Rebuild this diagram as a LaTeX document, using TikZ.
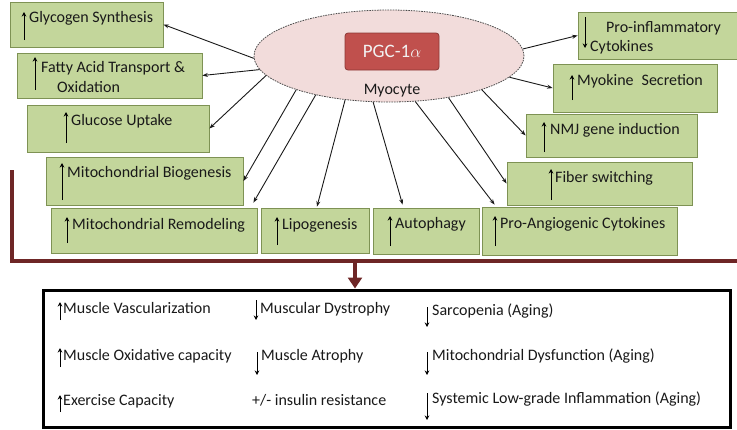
\documentclass[tikz,border=0pt]{standalone}
\usepackage{fontspec}
\setmainfont{Carlito}
\usetikzlibrary{shapes.geometric,arrows.meta}
\definecolor{boxgreen}{HTML}{C3D69B}
\definecolor{boxedge}{HTML}{7E9254}
\definecolor{cellpink}{HTML}{F2DCDB}
\definecolor{pgcred}{HTML}{C0504D}
\definecolor{pgcedge}{HTML}{8C3836}
\definecolor{maroon}{HTML}{6E2626}
\begin{document}
\begin{tikzpicture}[x=1pt,y=-1pt,
  gbox/.style={draw=boxedge,line width=0.8pt,fill=boxgreen,inner sep=0pt},
  txt/.style={anchor=base west,inner sep=0pt,text=black!90,font=\fontsize{16}{19}\selectfont},
  ua/.style={line width=0.9pt,-{Stealth[length=4.5pt,width=4.5pt]}},
  conn/.style={line width=0.9pt,draw=black!90,-{Stealth[length=5.5pt,width=4pt]}},
  bracket/.style={draw=maroon,line width=4pt}]
\useasboundingbox (0,0) rectangle (737,429);

% central cell
\node[ellipse,draw=black!70,dash pattern=on 1.6pt off 1pt,line width=0.8pt,fill=cellpink,
      minimum width=270pt,minimum height=92pt,inner sep=0pt] (ell) at (389,56) {};
\node[draw=pgcedge,line width=0.8pt,fill=pgcred,rounded corners=3pt,minimum width=94pt,
      minimum height=37pt,inner sep=0pt,text=white!95!black,font=\fontsize{19}{22}\selectfont]
      (pgc) at (392,51.5) {PGC-1$\alpha$};
\node[anchor=base,inner sep=0pt,text=black!90,font=\fontsize{16}{19}\selectfont] (myo) at (392,94) {Myocyte};

% green boxes
\node[gbox,minimum width=153pt,minimum height=45pt] (glyc) at (86.5,24.5) {};
\node[gbox,minimum width=185pt,minimum height=45pt] (fatty) at (109.5,75.5) {};
\node[gbox,minimum width=182pt,minimum height=47pt] (gluc) at (118,128.5) {};
\node[gbox,minimum width=197pt,minimum height=48pt] (mbio) at (144.5,181) {};
\node[gbox,minimum width=206pt,minimum height=45pt] (mrem) at (154,230.5) {};
\node[gbox,minimum width=108pt,minimum height=45pt] (lipo) at (315,230.5) {};
\node[gbox,minimum width=106pt,minimum height=46pt] (auto) at (426,231) {};
\node[gbox,minimum width=195pt,minimum height=48pt] (pang) at (579.5,231) {};
\node[gbox,minimum width=185pt,minimum height=43pt] (fiber) at (599.5,183.5) {};
\node[gbox,minimum width=171pt,minimum height=43pt] (nmj) at (611.5,135.5) {};
\node[gbox,minimum width=164pt,minimum height=48pt] (myok) at (635,88) {};
\node[gbox,minimum width=159pt,minimum height=47pt] (pinf) at (657.5,35.5) {};

% box texts
\node[txt] (t1) at (29,22) {Glycogen Synthesis};
\node[txt] (t2a) at (41,72) {Fatty Acid Transport \&};
\node[txt] (t2b) at (57,92) {Oxidation};
\node[txt] (t3) at (71,125) {Glucose Uptake};
\node[txt] (t4) at (67,177) {Mitochondrial Biogenesis};
\node[txt] (t5) at (72,229) {Mitochondrial Remodeling};
\node[txt] (t6) at (282,229) {Lipogenesis};
\node[txt] (t7) at (395,228) {Autophagy};
\node[txt] (t8) at (500,228) {Pro-Angiogenic Cytokines};
\node[txt] (t9) at (555,182) {Fiber switching};
\node[txt] (t10) at (550,134) {NMJ gene induction};
\node[txt] (t11) at (577,85) {Myokine\hspace{0.5em}Secretion};
\node[txt] (t12a) at (606,32) {Pro-inflammatory};
\node[txt] (t12b) at (590,51) {Cytokines};

% arrow glyphs in boxes
\draw[ua] (24,40) -- (24,12);
\draw[ua] (35,90) -- (35,57);
\draw[ua] (66,143) -- (66,112);
\draw[ua] (62,200) -- (62,163);
\draw[ua] (67,243) -- (67,217);
\draw[ua] (277,245) -- (277,217);
\draw[ua] (390,246) -- (390,216);
\draw[ua] (495,246) -- (495,216);
\draw[ua] (551,200) -- (551,169);
\draw[ua] (544,152) -- (544,122);
\draw[ua] (572,100) -- (572,75);
\draw[ua] (585,17) -- (585,48);

% connectors from the cell
\draw[conn] (ell.181.7) -- (glyc.east);
\draw[conn] (ell.186.1) -- (fatty.east);
\draw[conn] (ell.189.5) -- (gluc.east);
\draw[conn] (ell.200) -- (mbio.east);
\draw[conn] (ell.208.6) -- ([xshift=-4pt,yshift=5pt]mrem.north east);
\draw[conn] (ell.225) -- ([xshift=2pt,yshift=1pt]lipo.north);
\draw[conn] (ell.251.9) -- ([xshift=30pt,yshift=3pt]auto.north west);
\draw[conn] (ell.300.8) -- ([xshift=13pt,yshift=2pt]pang.north west);
\draw[conn] (ell.325.5) -- (fiber.west);
\draw[conn] (ell.340.5) -- (nmj.west);
\draw[conn] (ell.350.3) -- (myok.west);
\draw[conn] (ell.3.8) -- (pinf.west);

% result box
\node[draw=black,line width=3pt,minimum width=687pt,minimum height=137pt,inner sep=0pt]
      (res) at (386.5,358.5) {};

% maroon bracket
\coordinate (bl) at (12,170);
\coordinate (br) at (737,261);
\coordinate (bd) at (355,261);
\draw[bracket] (bl) |- (br);
\draw[bracket,-{Triangle[length=11pt,width=14pt]}] (bd) -- ([xshift=-31.5pt]res.north);

% result texts
\node[txt] (r1) at (63,313) {Muscle Vascularization};
\node[txt] (r2) at (260,313) {Muscular Dystrophy};
\node[txt] (r3) at (432,315) {Sarcopenia (Aging)};
\node[txt] (r4) at (63,360) {Muscle Oxidative capacity};
\node[txt] (r5) at (261,360) {Muscle Atrophy};
\node[txt] (r6) at (432,360) {Mitochondrial Dysfunction (Aging)};
\node[txt] (r7) at (63,405) {Exercise Capacity};
\node[txt] (r8) at (252,405) {+/- insulin resistance};
\node[txt] (r9) at (432,403) {Systemic Low-grade Inflammation (Aging)};

\draw[ua] (60,320) -- (60,302);
\draw[ua] (256,300) -- (256,320);
\draw[ua] (427,307) -- (427,327);
\draw[ua] (60,367) -- (60,348);
\draw[ua] (257,352) -- (257,375);
\draw[ua] (427,352) -- (427,375);
\draw[ua] (60,412) -- (60,395);
\draw[ua] (427,393) -- (427,420);
\end{tikzpicture}
\end{document}
